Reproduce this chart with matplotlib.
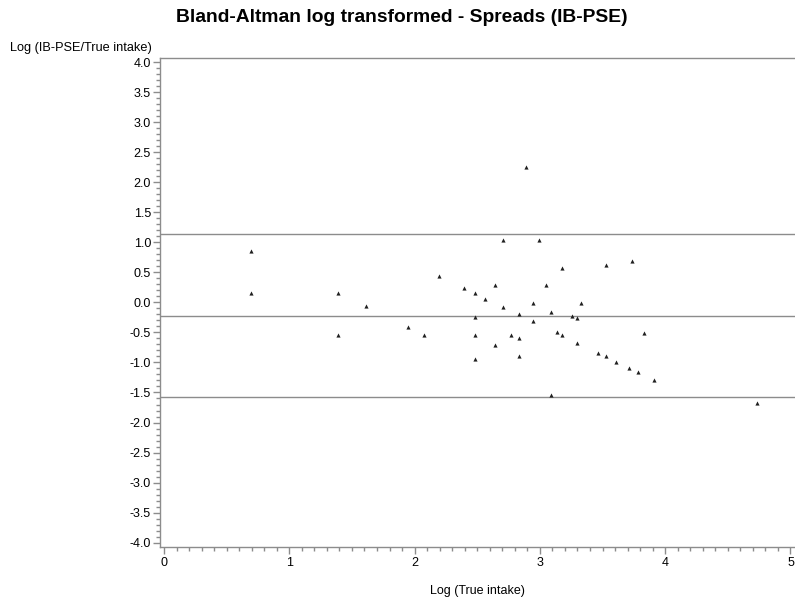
import matplotlib
matplotlib.use("Agg")
import matplotlib.pyplot as plt
from matplotlib.ticker import MultipleLocator, FormatStrFormatter

plt.rcParams['font.family'] = ['Liberation Sans', 'DejaVu Sans']

log_true = [0.693, 0.693, 1.386, 1.386, 1.609, 1.946, 2.079, 2.197, 2.398, 2.485,
            2.485, 2.485, 2.485, 2.565, 2.639, 2.639, 2.708, 2.708, 2.773, 2.833,
            2.833, 2.833, 2.890, 2.944, 2.944, 2.996, 3.045, 3.091, 3.091, 3.135,
            3.178, 3.178, 3.258, 3.296, 3.296, 3.332, 3.466, 3.526, 3.526, 3.611,
            3.714, 3.738, 3.784, 3.829, 3.912, 4.736]
log_ratio = [0.849, 0.155, 0.155, -0.544, -0.062, -0.411, -0.544, 0.433, 0.238, 0.155,
             -0.245, -0.544, -0.943, 0.055, 0.288, -0.711, 1.032, -0.078, -0.544, -0.195,
             -0.594, -0.894, 2.256, -0.012, -0.311, 1.032, 0.288, -0.161, -1.537, -0.494,
             0.571, -0.544, -0.228, -0.261, -0.677, -0.012, -0.838, 0.616, -0.894, -0.988,
             -1.088, 0.682, -1.155, -0.511, -1.288, -1.681]
ref_lines = [1.131, -0.228, -1.581]  # upper LoA, mean, lower LoA

fig = plt.figure(figsize=(7.95, 6.0), dpi=100)
ax = fig.add_axes([160 / 795, 1 - 547.3 / 600, 640 / 795, (547.3 - 58.3) / 600])

for y in ref_lines:
    ax.axhline(y, color='#8c8c8c', lw=1.0, zorder=1)

ax.scatter(log_true, log_ratio, marker='^', s=9, color='#202020', linewidths=0, zorder=3)

ax.set_xlim(-0.032, 5.076)
ax.set_ylim(-4.077, 4.063)
ax.xaxis.set_major_locator(MultipleLocator(1))
ax.xaxis.set_minor_locator(MultipleLocator(0.1))
ax.yaxis.set_major_locator(MultipleLocator(0.5))
ax.yaxis.set_minor_locator(MultipleLocator(0.1))
ax.yaxis.set_major_formatter(FormatStrFormatter('%.1f'))
ax.xaxis.set_major_formatter(FormatStrFormatter('%d'))

for s in ['left', 'bottom', 'top']:
    ax.spines[s].set_color('#8c8c8c')
    ax.spines[s].set_linewidth(1.0)
ax.spines['right'].set_visible(False)

ax.tick_params(axis='both', which='major', length=5, width=1, color='#8c8c8c',
               labelsize=9, labelcolor='black', pad=2)
ax.tick_params(axis='y', which='major', pad=1.5)
ax.tick_params(axis='both', which='minor', length=3, width=1, color='#8c8c8c')

fig.text(401.5 / 795, 1 - 18 / 600, 'Bland-Altman log transformed - Spreads (IB-PSE)',
         ha='center', va='center', fontsize=13.9, fontweight='bold')
fig.text(10 / 795, 1 - 48 / 600, 'Log (IB-PSE/True intake)', ha='left', va='center', fontsize=9.2)
fig.text(477 / 795, 1 - 591 / 600, 'Log (True intake)', ha='center', va='center', fontsize=9)

fig.savefig('out.png', dpi=100)
